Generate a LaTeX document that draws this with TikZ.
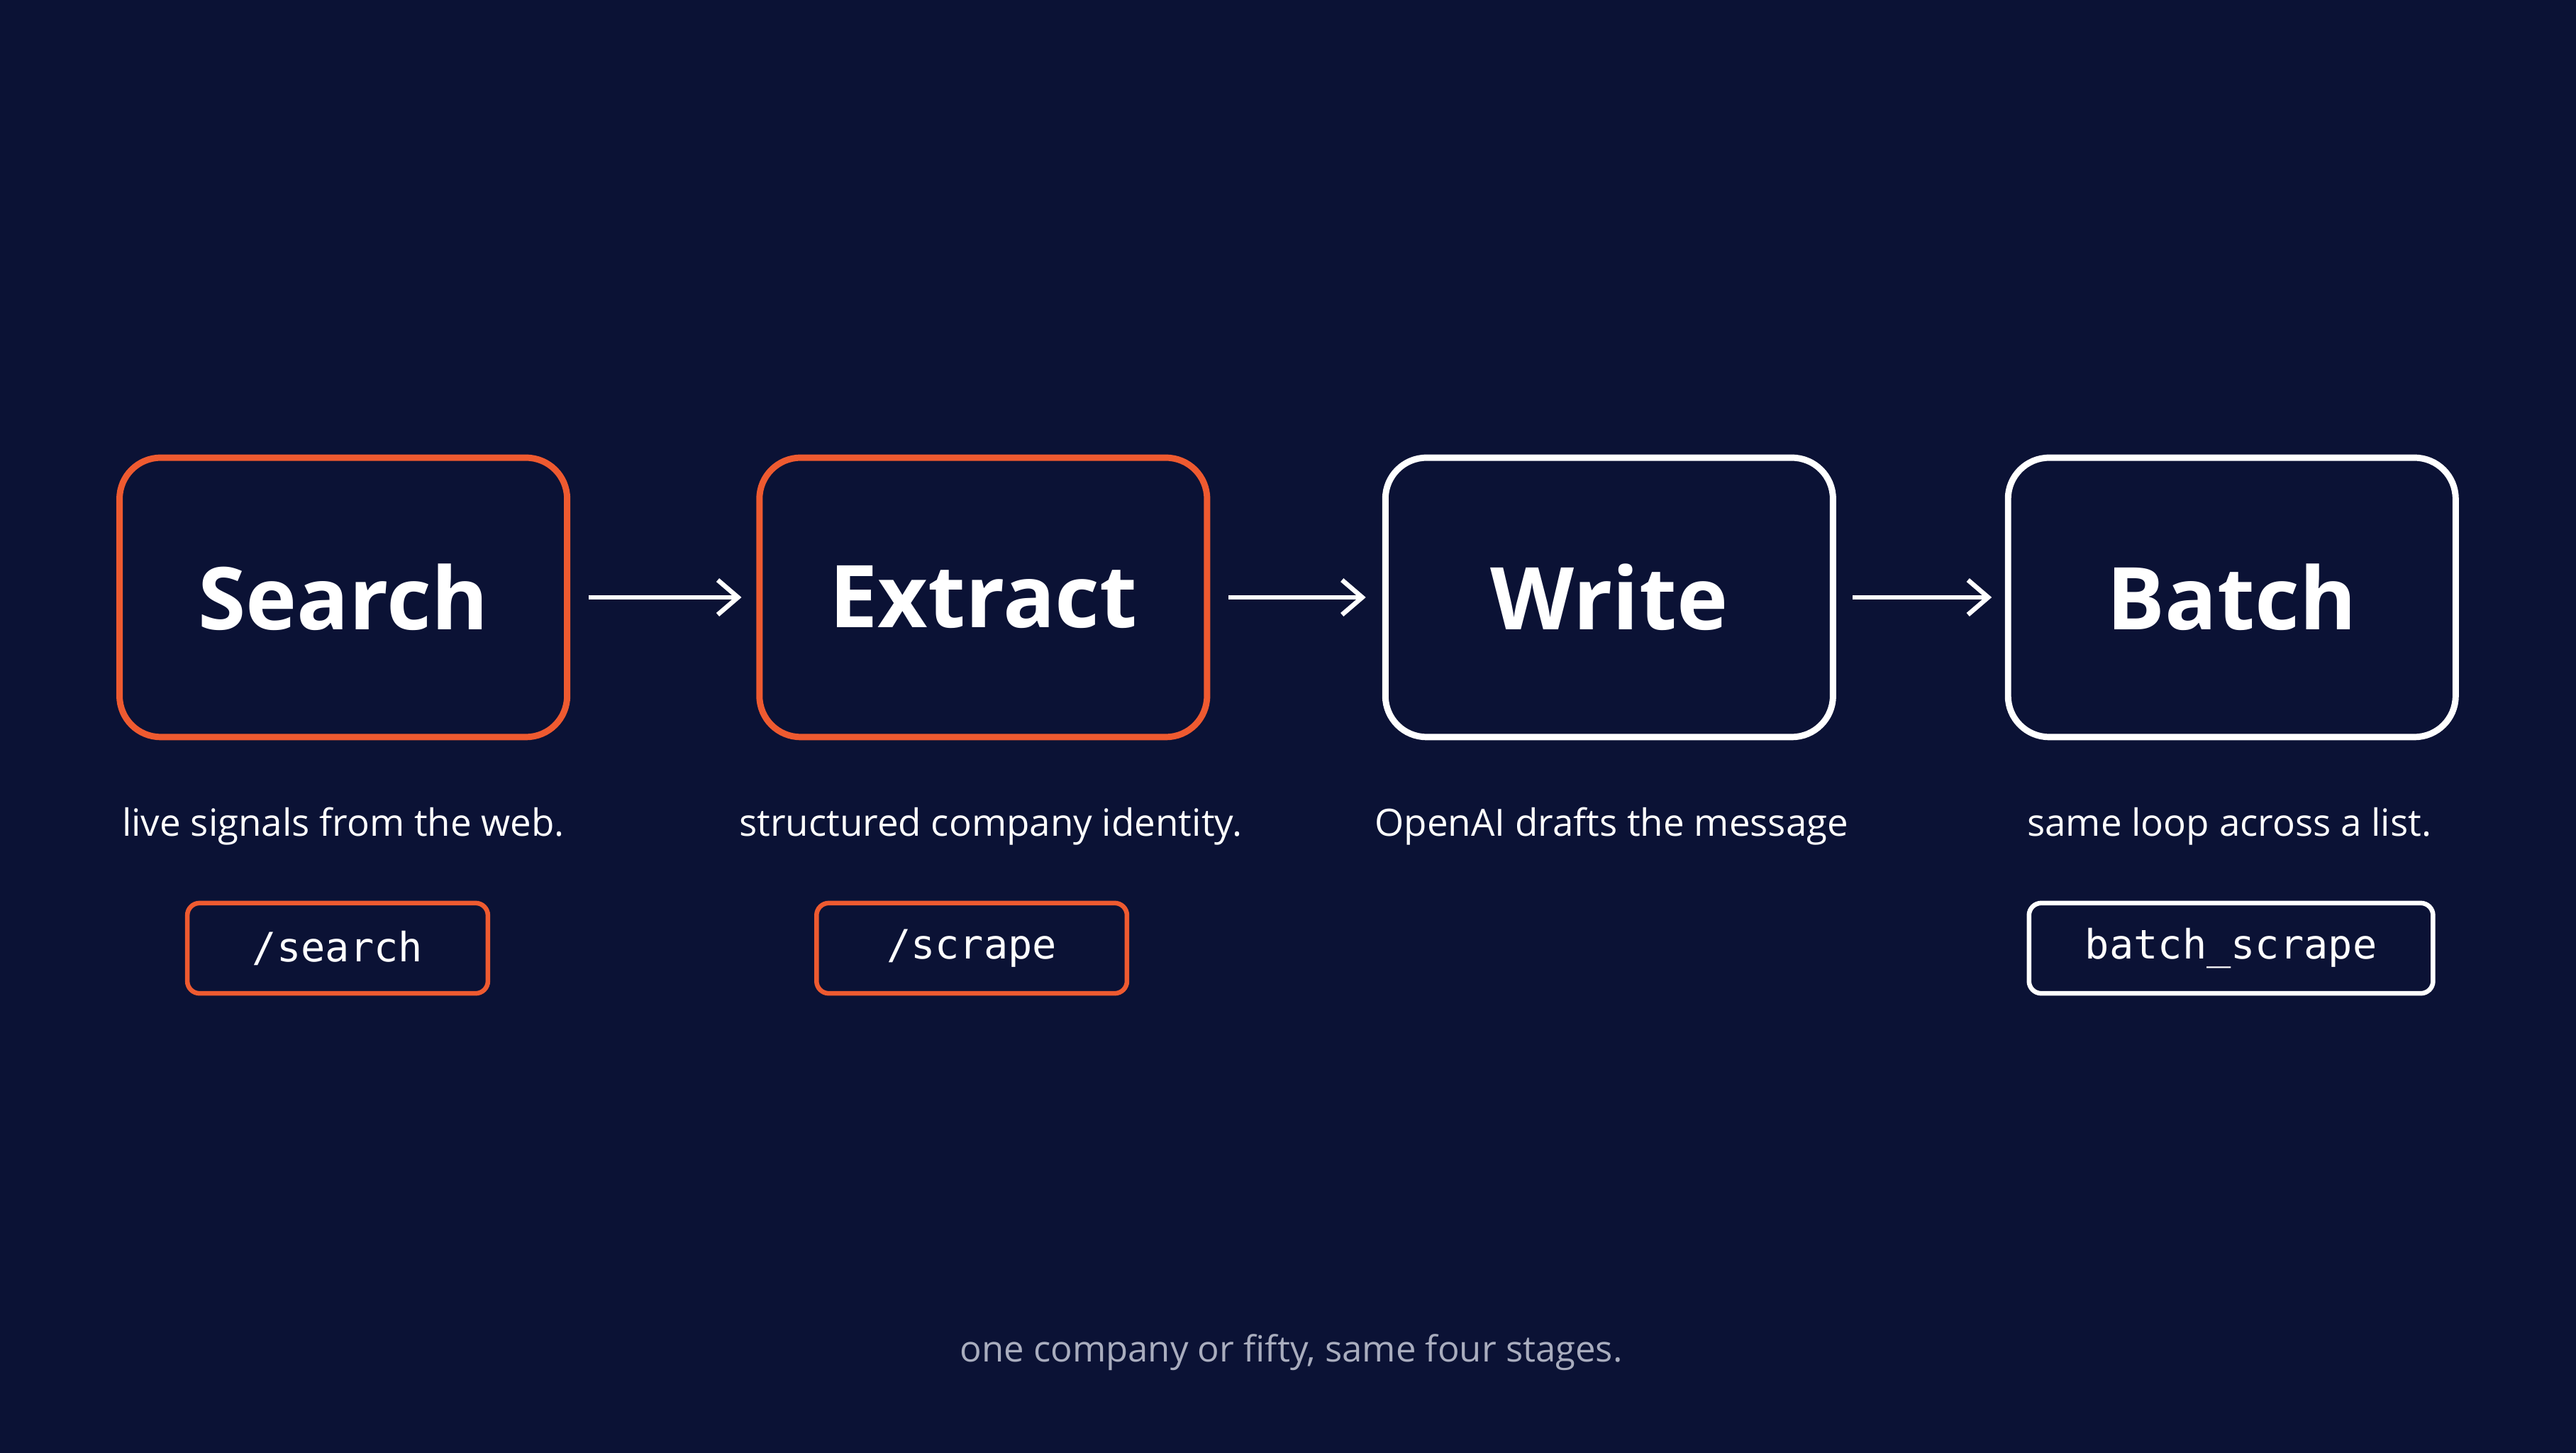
\documentclass[tikz,border=0pt]{standalone}
\usepackage{fontspec}
\setmainfont{Open Sans}
\setmonofont{DejaVu Sans Mono}
\usetikzlibrary{arrows.meta}
\definecolor{bg}{HTML}{0B1235}
\definecolor{org}{HTML}{EE5A30}
\definecolor{gry}{HTML}{A9ADBE}
\begin{document}
\begin{tikzpicture}[x=0.02cm,y=-0.02cm,
 stage/.style={draw,line width=2.2pt,rounded corners=0.5cm,minimum width=5.45cm,minimum height=3.4cm,text=white,font=\fontsize{30}{36}\selectfont\bfseries},
 code/.style={draw,line width=1.6pt,rounded corners=0.15cm,minimum height=1.1cm,text=white,font=\ttfamily\fontsize{14}{17}\selectfont},
 lbl/.style={text=white,font=\fontsize{13}{16}\selectfont},
 arr/.style={draw=white,line width=1.6pt,-{Straight Barb[length=7pt,width=12pt]}}]
\fill[bg] (0,0) rectangle (1568,884);
\node[stage,draw=org] (s) at (209,363.5) {Search};
\node[stage,draw=org] (e) at (598.5,363.5) {Extract};
\node[stage,draw=white] (w) at (979.5,363.5) {Write};
\node[stage,draw=white] (b) at (1358.5,363.5) {Batch};
\draw[arr] ([xshift=0.22cm]s.east) -- ([xshift=-0.18cm]e.west);
\draw[arr] ([xshift=0.22cm]e.east) -- ([xshift=-0.2cm]w.west);
\draw[arr] ([xshift=0.2cm]w.east) -- ([xshift=-0.16cm]b.west);
\node[lbl] (l1) at (209,503) {live signals from the web.};
\node[lbl] (l2) at (603,503) {structured company identity.};
\node[lbl] (l3) at (981,503) {OpenAI drafts the message};
\node[lbl] (l4) at (1357,503) {same loop across a list.};
\node[code,draw=org,minimum width=3.66cm] (c1) at (205.5,577) {/search};
\node[code,draw=org,minimum width=3.78cm] (c2) at (591.5,577) {/scrape};
\node[code,draw=white,minimum width=4.92cm] (c4) at (1358,577) {batch\_scrape};
\node[text=gry,font=\fontsize{12.5}{15}\selectfont] (f) at (786,823) {one company or fifty, same four stages.};
\end{tikzpicture}
\end{document}
